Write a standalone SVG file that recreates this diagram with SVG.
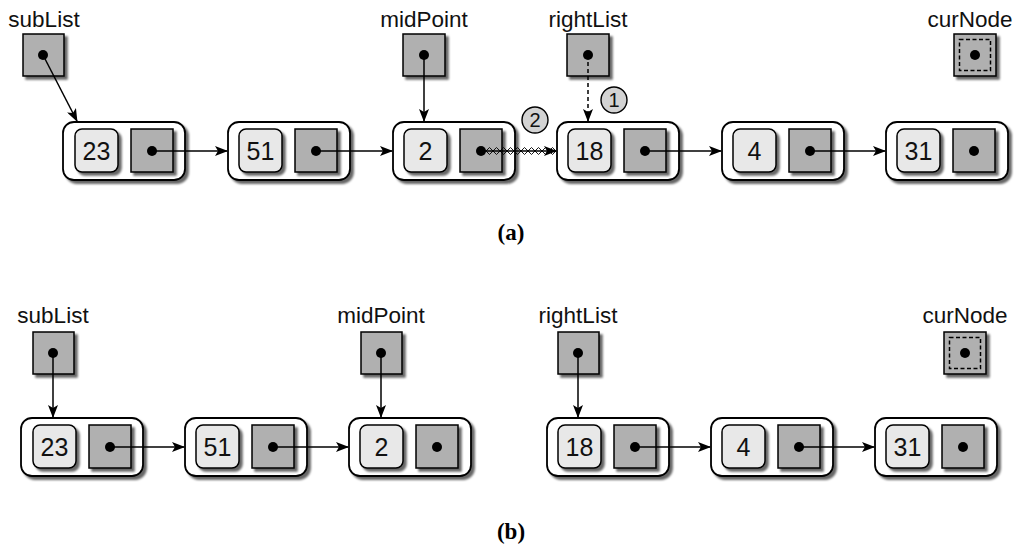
<svg xmlns="http://www.w3.org/2000/svg" width="1025" height="549" viewBox="0 0 1025 549">
<defs>
<filter id="sh" x="-20%" y="-20%" width="150%" height="150%">
<feDropShadow dx="3" dy="3" stdDeviation="1.3" flood-color="#000" flood-opacity="0.6"/>
</filter>
<marker id="ah" markerWidth="13" markerHeight="10" refX="12" refY="5" orient="auto" markerUnits="userSpaceOnUse">
<path d="M0,0 L13,5 L0,10 L3,5 Z" fill="#000"/>
</marker>
</defs>
<style>
.outer{fill:#fff;stroke:#000;stroke-width:1.8;filter:url(#sh)}
.val{fill:#e8e8e8;stroke:#000;stroke-width:1.5;filter:url(#sh)}
.ptr{fill:#b0b0b0;stroke:#000;stroke-width:1.5;filter:url(#sh)}
.var{fill:#b0b0b0;stroke:#000;stroke-width:1.5;filter:url(#sh)}
.dash{fill:none;stroke:#000;stroke-width:1.5;stroke-dasharray:4,2.5}
.dot{fill:#000}
.num{font-family:"Liberation Sans",Arial,sans-serif;font-size:25px;text-anchor:middle;fill:#111}
.lbl{font-family:"Liberation Sans",Arial,sans-serif;font-size:22.5px;text-anchor:middle;fill:#111}
.cap{font-family:"Liberation Serif","Times New Roman",serif;font-size:23px;font-weight:bold;text-anchor:middle;fill:#000}
.circ{fill:#d3d3d3;stroke:#000;stroke-width:1.4}
.cnum{font-family:"Liberation Sans",Arial,sans-serif;font-size:20px;text-anchor:middle;fill:#111}
.ln{fill:none;stroke:#000;stroke-width:1.5}
</style>

<!-- ===== (a) ===== -->
<g id="a-subList">
<text class="lbl" x="44" y="27">subList</text>
<rect class="var" x="23" y="34" width="41" height="42"/>
<circle class="dot" cx="43" cy="55" r="5"/>
</g>
<g id="a-midPoint">
<text class="lbl" x="424" y="27">midPoint</text>
<rect class="var" x="403" y="34" width="42" height="42"/>
<circle class="dot" cx="424" cy="55" r="5"/>
</g>
<g id="a-rightList">
<text class="lbl" x="588" y="27">rightList</text>
<rect class="var" x="567" y="34" width="42" height="42"/>
<circle class="dot" cx="588" cy="55" r="5"/>
</g>
<g id="a-curNode">
<text class="lbl" x="970" y="27">curNode</text>
<rect class="var" x="954" y="34" width="42" height="42"/>
<rect class="dash" x="959.5" y="39.5" width="31" height="31"/>
<circle class="dot" cx="975" cy="55" r="5"/>
</g>

<g id="a-n23">
<rect class="outer" x="63" y="122" width="122" height="58" rx="11"/>
<rect class="val" x="75" y="129" width="43" height="43" rx="7"/>
<text class="num" x="96.5" y="160">23</text>
<rect class="ptr" x="131" y="129" width="42" height="43"/>
<circle class="dot" cx="152" cy="151" r="5"/>
</g>
<g id="a-n51">
<rect class="outer" x="228" y="122" width="122" height="58" rx="11"/>
<rect class="val" x="239" y="129" width="43" height="43" rx="7"/>
<text class="num" x="260.5" y="160">51</text>
<rect class="ptr" x="295" y="129" width="42" height="43"/>
<circle class="dot" cx="316" cy="151" r="5"/>
</g>
<g id="a-n2">
<rect class="outer" x="393" y="122" width="122" height="58" rx="11"/>
<rect class="val" x="404" y="129" width="43" height="43" rx="7"/>
<text class="num" x="425.5" y="160">2</text>
<rect class="ptr" x="460" y="129" width="42" height="43"/>
<circle class="dot" cx="481" cy="151" r="5"/>
</g>
<g id="a-n18">
<rect class="outer" x="557" y="122" width="122" height="58" rx="11"/>
<rect class="val" x="568" y="129" width="43" height="43" rx="7"/>
<text class="num" x="589.5" y="160">18</text>
<rect class="ptr" x="624" y="129" width="42" height="43"/>
<circle class="dot" cx="645" cy="151" r="5"/>
</g>
<g id="a-n4">
<rect class="outer" x="722" y="122" width="122" height="58" rx="11"/>
<rect class="val" x="733" y="129" width="43" height="43" rx="7"/>
<text class="num" x="754.5" y="160">4</text>
<rect class="ptr" x="789" y="129" width="42" height="43"/>
<circle class="dot" cx="810" cy="151" r="5"/>
</g>
<g id="a-n31">
<rect class="outer" x="886" y="122" width="122" height="58" rx="11"/>
<rect class="val" x="897" y="129" width="43" height="43" rx="7"/>
<text class="num" x="918.5" y="160">31</text>
<rect class="ptr" x="953" y="129" width="42" height="43"/>
<circle class="dot" cx="974" cy="151" r="5"/>
</g>

<g id="a-step2">
<circle class="circ" cx="535" cy="120" r="13"/>
<text class="cnum" x="535" y="127">2</text>
</g>
<g id="a-step1">
<circle class="circ" cx="614" cy="100" r="13"/>
<text class="cnum" x="614" y="107">1</text>
</g>

<g id="a-connectors">
<line class="ln" x1="43" y1="55" x2="77" y2="121" marker-end="url(#ah)"/>
<line class="ln" x1="424" y1="55" x2="424" y2="121" marker-end="url(#ah)"/>
<line class="ln" x1="588" y1="55" x2="588" y2="121" stroke-dasharray="4,3" marker-end="url(#ah)"/>
<line class="ln" x1="152" y1="151" x2="227" y2="151" marker-end="url(#ah)"/>
<line class="ln" x1="316" y1="151" x2="392" y2="151" marker-end="url(#ah)"/>
<line class="ln" x1="645" y1="151" x2="721" y2="151" marker-end="url(#ah)"/>
<line class="ln" x1="810" y1="151" x2="885" y2="151" marker-end="url(#ah)"/>
<line class="ln" x1="481" y1="151" x2="556" y2="151" marker-end="url(#ah)"/>
<path fill="none" stroke="#000" stroke-width="0.9" d="M486,151 l3.5,-3.5 l3.5,3.5 l3.5,-3.5 l3.5,3.5 l3.5,-3.5 l3.5,3.5 l3.5,-3.5 l3.5,3.5 l3.5,-3.5 l3.5,3.5 l3.5,-3.5 l3.5,3.5 l3.5,-3.5 l3.5,3.5 l3.5,-3.5 l3.5,3.5 l3.5,-3.5 l3.5,3.5 l3.5,-3.5 l3.5,3.5"/>
<path fill="none" stroke="#000" stroke-width="0.9" d="M486,151 l3.5,3.5 l3.5,-3.5 l3.5,3.5 l3.5,-3.5 l3.5,3.5 l3.5,-3.5 l3.5,3.5 l3.5,-3.5 l3.5,3.5 l3.5,-3.5 l3.5,3.5 l3.5,-3.5 l3.5,3.5 l3.5,-3.5 l3.5,3.5 l3.5,-3.5 l3.5,3.5 l3.5,-3.5 l3.5,3.5 l3.5,-3.5"/>
</g>

<text class="cap" x="511" y="240">(a)</text>

<!-- ===== (b) ===== -->
<g id="b-subList">
<text class="lbl" x="53" y="323">subList</text>
<rect class="var" x="33" y="332" width="41" height="42"/>
<circle class="dot" cx="53" cy="353" r="5"/>
</g>
<g id="b-midPoint">
<text class="lbl" x="381" y="323">midPoint</text>
<rect class="var" x="361" y="332" width="41" height="42"/>
<circle class="dot" cx="381" cy="353" r="5"/>
</g>
<g id="b-rightList">
<text class="lbl" x="578" y="323">rightList</text>
<rect class="var" x="558" y="332" width="41" height="42"/>
<circle class="dot" cx="578" cy="353" r="5"/>
</g>
<g id="b-curNode">
<text class="lbl" x="965" y="323">curNode</text>
<rect class="var" x="944" y="332" width="42" height="42"/>
<rect class="dash" x="949.5" y="337.5" width="31" height="31"/>
<circle class="dot" cx="965" cy="353" r="5"/>
</g>

<g id="b-n23">
<rect class="outer" x="21" y="418" width="122" height="58" rx="11"/>
<rect class="val" x="33" y="425" width="43" height="43" rx="7"/>
<text class="num" x="54.5" y="456">23</text>
<rect class="ptr" x="89" y="425" width="42" height="43"/>
<circle class="dot" cx="110" cy="447" r="5"/>
</g>
<g id="b-n51">
<rect class="outer" x="185" y="418" width="122" height="58" rx="11"/>
<rect class="val" x="196" y="425" width="43" height="43" rx="7"/>
<text class="num" x="217.5" y="456">51</text>
<rect class="ptr" x="252" y="425" width="42" height="43"/>
<circle class="dot" cx="273" cy="447" r="5"/>
</g>
<g id="b-n2">
<rect class="outer" x="349" y="418" width="122" height="58" rx="11"/>
<rect class="val" x="360" y="425" width="43" height="43" rx="7"/>
<text class="num" x="381.5" y="456">2</text>
<rect class="ptr" x="416" y="425" width="42" height="43"/>
<circle class="dot" cx="437" cy="447" r="5"/>
</g>
<g id="b-n18">
<rect class="outer" x="547" y="418" width="122" height="58" rx="11"/>
<rect class="val" x="558" y="425" width="43" height="43" rx="7"/>
<text class="num" x="579.5" y="456">18</text>
<rect class="ptr" x="614" y="425" width="42" height="43"/>
<circle class="dot" cx="635" cy="447" r="5"/>
</g>
<g id="b-n4">
<rect class="outer" x="711" y="418" width="122" height="58" rx="11"/>
<rect class="val" x="722" y="425" width="43" height="43" rx="7"/>
<text class="num" x="743.5" y="456">4</text>
<rect class="ptr" x="778" y="425" width="42" height="43"/>
<circle class="dot" cx="799" cy="447" r="5"/>
</g>
<g id="b-n31">
<rect class="outer" x="875" y="418" width="122" height="58" rx="11"/>
<rect class="val" x="886" y="425" width="43" height="43" rx="7"/>
<text class="num" x="907.5" y="456">31</text>
<rect class="ptr" x="942" y="425" width="42" height="43"/>
<circle class="dot" cx="963" cy="447" r="5"/>
</g>

<g id="b-connectors">
<line class="ln" x1="53" y1="353" x2="53" y2="417" marker-end="url(#ah)"/>
<line class="ln" x1="381" y1="353" x2="381" y2="417" marker-end="url(#ah)"/>
<line class="ln" x1="578" y1="353" x2="578" y2="417" marker-end="url(#ah)"/>
<line class="ln" x1="110" y1="447" x2="184" y2="447" marker-end="url(#ah)"/>
<line class="ln" x1="273" y1="447" x2="348" y2="447" marker-end="url(#ah)"/>
<line class="ln" x1="635" y1="447" x2="710" y2="447" marker-end="url(#ah)"/>
<line class="ln" x1="799" y1="447" x2="874" y2="447" marker-end="url(#ah)"/>
</g>

<text class="cap" x="511" y="539">(b)</text>
</svg>
